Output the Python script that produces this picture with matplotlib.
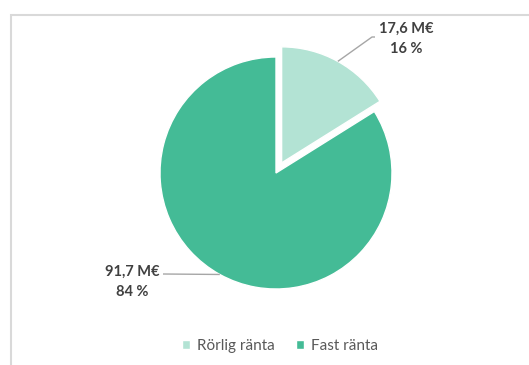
import numpy as np
import matplotlib
matplotlib.use("Agg")
import matplotlib.pyplot as plt
from matplotlib.patches import Rectangle

# --- Data ---
categories = ["Rörlig ränta", "Fast ränta"]
amounts = [17.6, 91.7]          # M€
colors = ["#B3E3D4", "#44BB96"]
label_text = ["17,6 M€\n16 %", "91,7 M€\n84 %"]

plt.rcParams["font.family"] = ["Lato", "DejaVu Sans"]

W, H = 529, 365
fig = plt.figure(figsize=(W / 100, H / 100), dpi=100)
ax = fig.add_axes([0, 0, 1, 1])

# pie laid out in pixel units (y up)
cx, cy, R = 276, 365 - 173, 116
explode = [0.1 * R, 0]
wedges, _ = ax.pie(amounts, colors=colors, startangle=90, counterclock=False,
                   radius=R, center=(cx, cy), explode=explode,
                   wedgeprops=dict(edgecolor="white", linewidth=1))
ax.set_xlim(0, W)
ax.set_ylim(0, H)
ax.set_aspect("equal")
ax.axis("off")

# data labels with leader lines from the middle of each arc
text_pos = [(406, H - 39), (132, H - 282)]
elbow = [(372, H - 37), (163, H - 274)]
for w, txt, tp, el in zip(wedges, label_text, text_pos, elbow):
    ang = np.deg2rad((w.theta1 + w.theta2) / 2)
    wx, wy = w.center
    px, py = wx + R * np.cos(ang), wy + R * np.sin(ang)
    if tp[0] > cx:
        xs, ys = [px, el[0], el[0] + 3], [py, el[1], el[1]]
    else:
        xs, ys = [px, el[0]], [py, el[1]]
    ax.plot(xs, ys, color="#A6A6A6", lw=1, solid_capstyle="butt")
    ax.text(tp[0], tp[1], txt, ha="center", va="center", fontsize=10.5,
            fontweight="bold", color="#404040", linespacing=1.55)

# legend
leg = ax.legend(wedges, categories, loc="center", ncol=2, frameon=False,
                bbox_to_anchor=(280 / W, 1 - 346 / H), bbox_transform=fig.transFigure,
                fontsize=11, handlelength=0.55, handleheight=0.55, handletextpad=0.45,
                columnspacing=1.4, labelcolor="#595959")

# chart area border (runs off the right and bottom edges)
fig.patches.append(Rectangle((10.5 / W, -0.1), 1.2, (H - 15.5) / H + 0.1,
                             transform=fig.transFigure, fill=False,
                             edgecolor="#D9D9D9", lw=1.5))

fig.savefig("out.png", dpi=100)
